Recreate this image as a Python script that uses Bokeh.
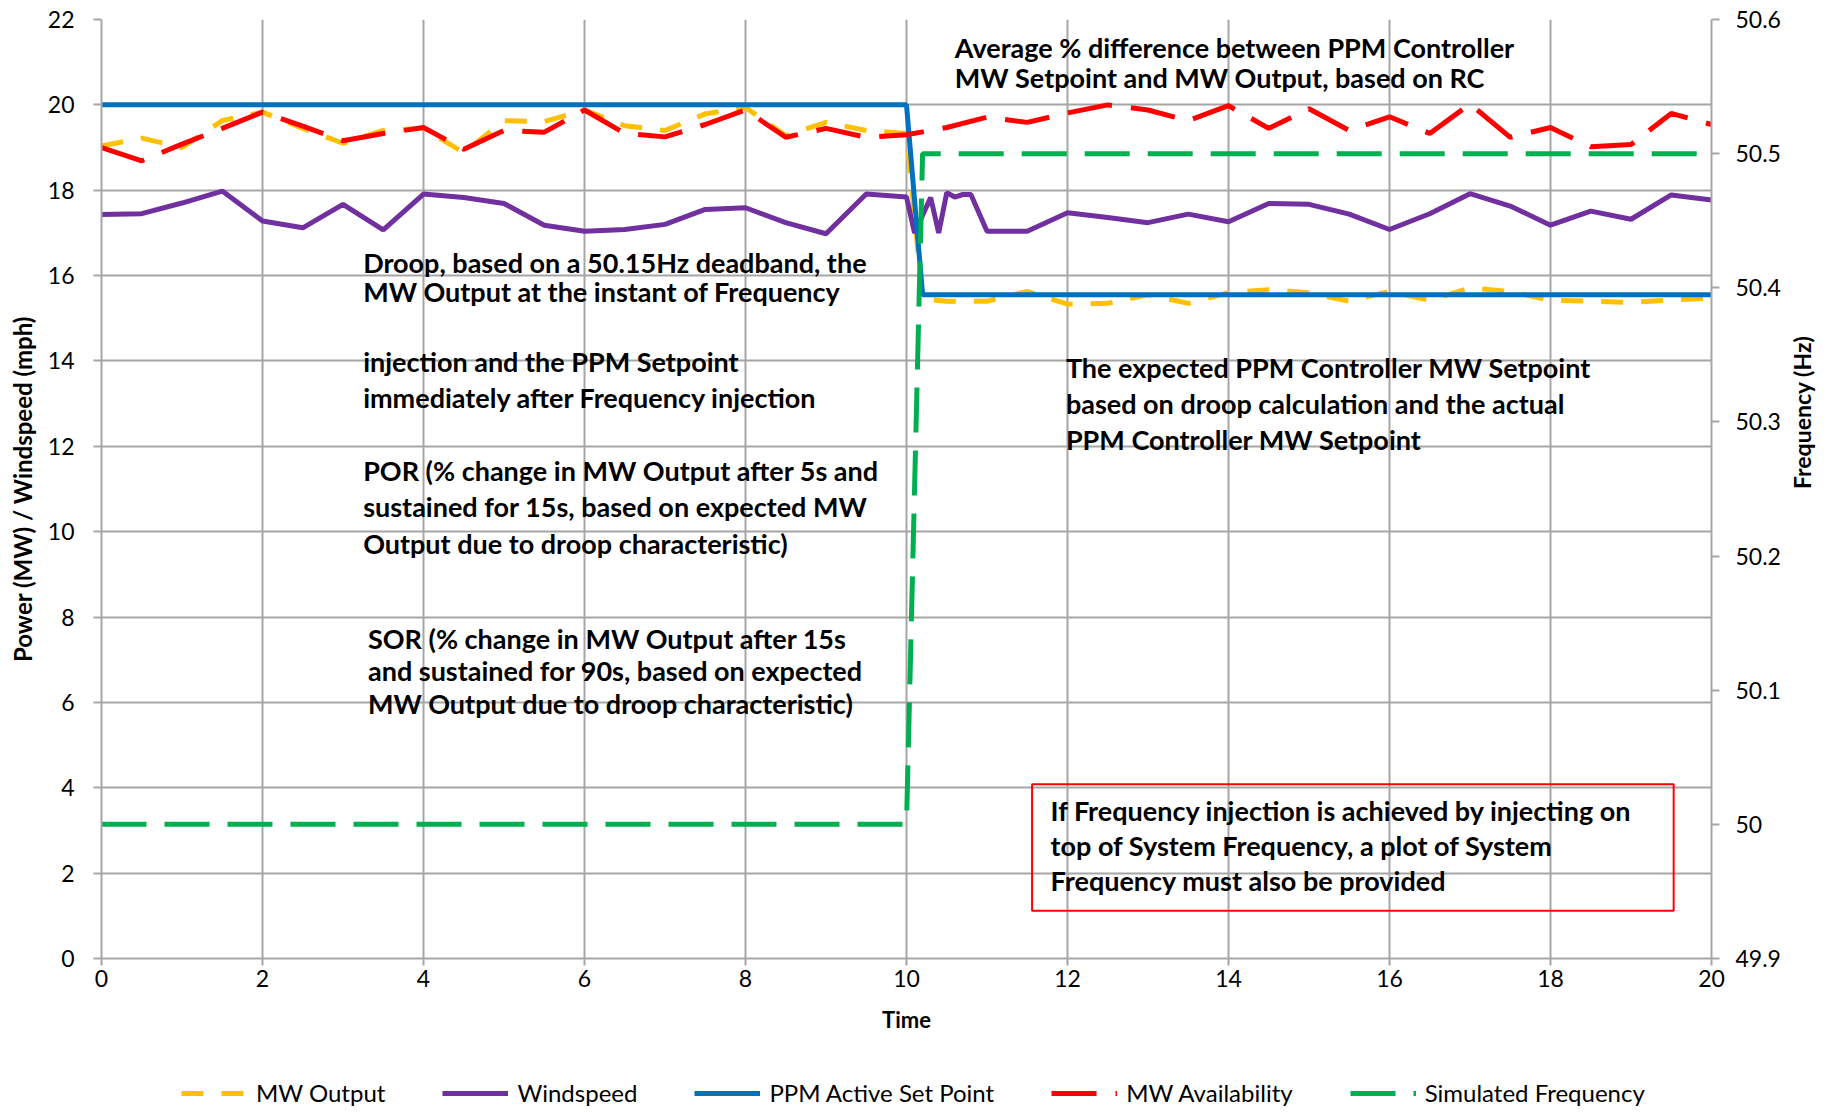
import math
from bokeh.plotting import figure
from bokeh.layouts import column
from bokeh.models import (Range1d, LinearAxis, FixedTicker, Legend, LegendItem, Label,
                          BoxAnnotation, CustomJSTickFormatter)
from bokeh.embed import file_html
from bokeh.resources import INLINE

# ---------------- data ----------------
t_output = [0, 0.5, 1, 1.5, 2, 2.5, 3, 3.5, 4, 4.5, 5, 5.5, 6, 6.5, 7, 7.5, 8, 8.5, 9, 9.5, 10,
            10.2, 10.5, 11, 11.5, 12, 12.5, 13, 13.5, 14, 14.5, 15, 15.5, 16, 16.5, 17, 17.5,
            18, 18.5, 19, 19.5, 20]
mw_output = [19.04, 19.22, 19.0, 19.63, 19.83, 19.45, 19.1, 19.4, 19.45, 18.88, 19.63, 19.61,
             19.88, 19.51, 19.4, 19.79, 19.94, 19.28, 19.59, 19.4, 19.33,
             15.45, 15.4, 15.4, 15.63, 15.33, 15.35, 15.55, 15.35, 15.6, 15.67, 15.6, 15.4,
             15.63, 15.42, 15.71, 15.63, 15.42, 15.4, 15.37, 15.43, 15.47]

t_wind = [0, 0.5, 1, 1.5, 2, 2.5, 3, 3.5, 4, 4.5, 5, 5.5, 6, 6.5, 7, 7.5, 8, 8.5, 9, 9.5, 10,
          10.1, 10.3, 10.4, 10.5, 10.6, 10.7, 10.8, 11, 11.5, 12, 12.5, 13, 13.5, 14, 14.5, 15,
          15.5, 16, 16.5, 17, 17.5, 18, 18.5, 19, 19.5, 20]
windspeed = [17.43, 17.45, 17.7, 17.98, 17.28, 17.12, 17.67, 17.07, 17.91, 17.83, 17.69, 17.18,
             17.04, 17.08, 17.2, 17.55, 17.59, 17.24, 16.98, 17.91, 17.84,
             17.0, 17.83, 17.0, 17.94, 17.84, 17.9, 17.9, 17.04, 17.04, 17.47, 17.36, 17.24,
             17.44, 17.26, 17.69, 17.67, 17.44, 17.08, 17.45, 17.92, 17.63, 17.18, 17.51,
             17.32, 17.89, 17.77]

t_setpoint = [0, 10, 10.2, 20]
ppm_setpoint = [20.0, 20.0, 15.55, 15.55]

t_avail = [0, 0.5, 1, 1.5, 2, 2.5, 3, 3.5, 4, 4.5, 5, 5.5, 6, 6.5, 7, 7.5, 8, 8.5, 9, 9.5, 10,
           10.5, 11, 11.5, 12, 12.5, 13, 13.5, 14, 14.5, 15, 15.5, 16, 16.5, 17, 17.5, 18,
           18.5, 19, 19.5, 20]
mw_avail = [19.0, 18.69, 19.08, 19.45, 19.83, 19.5, 19.16, 19.33, 19.47, 18.96, 19.4, 19.36,
            19.88, 19.33, 19.25, 19.54, 19.88, 19.24, 19.45, 19.24, 19.3,
            19.47, 19.71, 19.59, 19.81, 20.0, 19.88, 19.63, 19.98, 19.45, 19.91, 19.4, 19.72,
            19.33, 20.02, 19.24, 19.47, 19.02, 19.07, 19.8, 19.54]

t_freq = [0, 10, 10.2, 20]
sim_freq = [50.0, 50.0, 50.5, 50.5]

series_names = ["MW Output", "Windspeed", "PPM Active Set Point", "MW Availability",
                "Simulated Frequency"]

left_ticks = [0, 2, 4, 6, 8, 10, 12, 14, 16, 18, 20, 22]
x_ticks = [0, 2, 4, 6, 8, 10, 12, 14, 16, 18, 20]
freq_ticks = [49.9, 50.0, 50.1, 50.2, 50.3, 50.4, 50.5, 50.6]

# ---------------- styles ----------------
GRID = "#A6A6A6"
FONT = "Lato"
styles = [dict(line_color="#FFC000", line_width=5, line_dash="22 18"),
          dict(line_color="#7030A0", line_width=5),
          dict(line_color="#0070C0", line_width=5),
          dict(line_color="#FF0000", line_width=5, line_dash="45 19"),
          dict(line_color="#00B050", line_width=5, line_dash="45 18")]
series_data = [(t_output, mw_output), (t_wind, windspeed), (t_setpoint, ppm_setpoint),
               (t_avail, mw_avail), (t_freq, sim_freq)]

# ---------------- main figure ----------------
p = figure(width=1843, height=1046, output_backend="svg", toolbar_location=None,
           x_range=Range1d(0, 20), y_range=Range1d(0, 22),
           min_border_left=101, min_border_right=132, min_border_top=19, min_border_bottom=88)
p.extra_y_ranges = {"freq": Range1d(49.9, 50.6)}
p.outline_line_color = None
p.background_fill_color = "white"

for g, ticks in ((p.xgrid[0], x_ticks), (p.ygrid[0], left_ticks)):
    g.ticker = FixedTicker(ticks=ticks)
    g.grid_line_color = GRID
    g.grid_line_width = 2


def style_axis(ax, size="23px", title_size="24px"):
    ax.axis_line_color = GRID
    ax.axis_line_width = 2
    ax.major_tick_line_color = GRID
    ax.major_tick_line_width = 2
    ax.major_tick_in = 0
    ax.minor_tick_line_color = None
    ax.major_label_text_font = FONT
    ax.major_label_text_font_size = size
    ax.major_label_text_color = "black"
    ax.axis_label_text_font = FONT
    ax.axis_label_text_font_style = "bold"
    ax.axis_label_text_font_size = title_size
    ax.axis_label_text_color = "black"


xa = p.xaxis[0]
xa.ticker = FixedTicker(ticks=x_ticks)
style_axis(xa, title_size="22px")
xa.major_tick_out = 7
xa.major_label_standoff = 4
xa.axis_label = "Time"
xa.axis_label_standoff = 16

ya = p.yaxis[0]
ya.ticker = FixedTicker(ticks=left_ticks)
style_axis(ya)
ya.major_tick_out = 8
ya.major_label_standoff = 19
ya.axis_label = "Power (MW) / Windspeed (mph)"
ya.axis_label_standoff = 8

ra = LinearAxis(y_range_name="freq", ticker=FixedTicker(ticks=freq_ticks),
                formatter=CustomJSTickFormatter(code="return String(Number(tick.toFixed(1)))"))
style_axis(ra, title_size="23px")
ra.major_tick_out = 8
ra.major_label_standoff = 16
ra.axis_label = "Frequency (Hz)"
ra.axis_label_standoff = 18
try:
    ra.axis_label_orientation = -1.5 * math.pi
except AttributeError:
    pass
p.add_layout(ra, "right")

for (xs, ys), st, nm in zip(series_data, styles, series_names):
    if nm == "Simulated Frequency":
        p.line(xs, ys, y_range_name="freq", **st)
    else:
        p.line(xs, ys, **st)

blocks = [
    (10.6, [21.35, 20.63], ["Average % difference between PPM Controller",
                            "MW Setpoint and MW Output, based on RC"]),
    (3.25, [16.31, 15.62], ["Droop, based on a 50.15Hz deadband, the",
                            "MW Output at the instant of Frequency"]),
    (3.25, [13.99, 13.14], ["injection and the PPM Setpoint",
                            "immediately after Frequency injection"]),
    (3.25, [11.43, 10.58, 9.72], ["POR (% change in MW Output after 5s and",
                                  "sustained for 15s, based on expected MW",
                                  "Output due to droop characteristic)"]),
    (3.31, [7.50, 6.75, 5.97], ["SOR (% change in MW Output after 15s",
                                "and sustained for 90s, based on expected",
                                "MW Output due to droop characteristic)"]),
    (11.98, [13.85, 13.0, 12.17], ["The expected PPM Controller MW Setpoint",
                                   "based on droop calculation and the actual",
                                   "PPM Controller MW Setpoint"]),
    (11.79, [3.47, 2.65, 1.83], ["If Frequency injection is achieved by injecting on",
                                 "top of System Frequency, a plot of System",
                                 "Frequency must also be provided"]),
]
for x, ys, lines in blocks:
    for y, line in zip(ys, lines):
        p.add_layout(Label(x=x, y=y, text=line, text_font=FONT, text_font_style="bold",
                           text_font_size="27px", text_color="black",
                           text_baseline="middle", text_align="left"))

p.add_layout(BoxAnnotation(left=11.56, right=19.53, bottom=1.12, top=4.08,
                           fill_alpha=0, line_color="#FF0000", line_alpha=1, line_width=2))

# ---------------- legend strip (same series, ranges keep them out of view) ----------------
lg = figure(width=1843, height=66, output_backend="svg", toolbar_location=None,
            x_range=Range1d(0, 1), y_range=Range1d(-2, -1),
            x_axis_type=None, y_axis_type=None,
            min_border_left=0, min_border_right=0, min_border_top=0, min_border_bottom=0)
lg.outline_line_color = None
lg.xgrid.visible = False
lg.ygrid.visible = False
items = []
for (xs, ys), st, nm in zip(series_data, styles, series_names):
    r = lg.line(xs, ys, **st)
    items.append(LegendItem(label=nm, renderers=[r]))
legend = Legend(items=items, orientation="horizontal", location=(78, 3),
                glyph_width=66, glyph_height=22, label_standoff=9, spacing=57,
                padding=2, margin=0, background_fill_alpha=0, border_line_alpha=0,
                label_text_font=FONT, label_text_font_size="24px", label_text_color="black")
lg.add_layout(legend)

open("out.html", "w").write(file_html(column(p, lg, spacing=0), INLINE))
